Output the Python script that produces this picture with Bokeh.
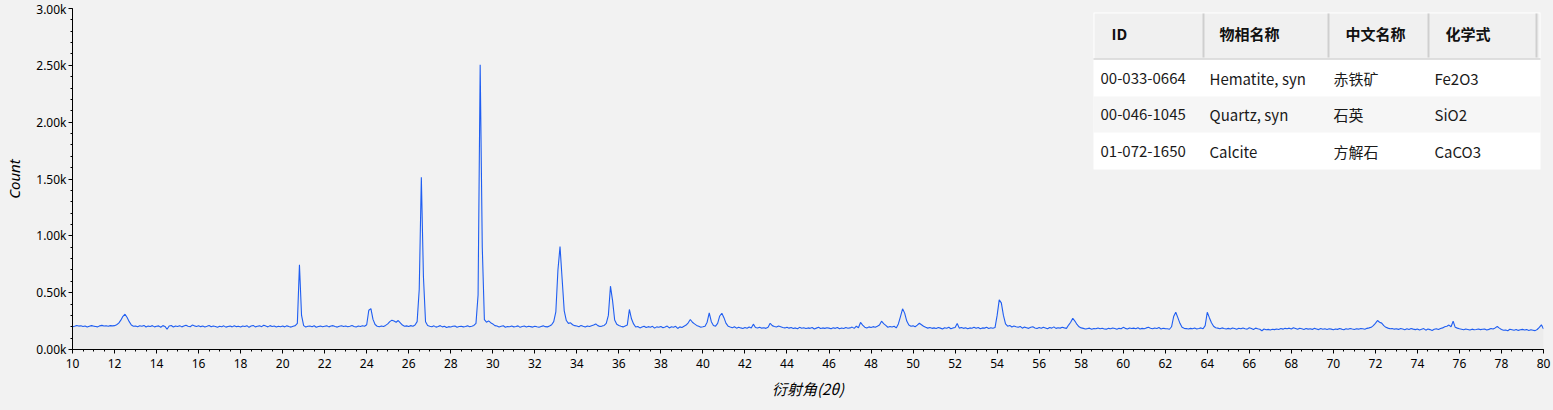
import numpy as np
from bokeh.plotting import figure
from bokeh.models import Range1d, SingleIntervalTicker, CustomJSTickFormatter, ColumnDataSource
from bokeh.core.properties import value
from bokeh.embed import file_html
from bokeh.resources import INLINE

# ---------------- data ----------------
START_2THETA = 10.0
STEP_2THETA = 0.1
counts = [
    200, 204, 212, 206, 209, 203, 207, 198, 205, 210,   # 10
    206, 203, 199, 208, 212, 207, 209, 205, 210, 208,   # 11
    210, 218, 232, 258, 292, 310, 282, 245, 215, 205,   # 12
    207, 201, 209, 204, 212, 198, 206, 203, 210, 199,   # 13
    205, 208, 196, 210, 203, 178, 207, 211, 198, 206,   # 14
    202, 210, 199, 206, 213, 204, 200, 215, 208, 203,   # 15
    209, 201, 206, 198, 204, 211, 200, 207, 203, 196,   # 16
    205, 200, 208, 197, 203, 206, 199, 209, 201, 205,   # 17
    198, 207, 202, 210, 195, 206, 212, 199, 204, 208,   # 18
    201, 214, 206, 199, 210, 203, 207, 198, 205, 200,   # 19
    206, 199, 208, 202, 197, 205, 210, 230, 745, 300,   # 20
    210, 198, 204, 207, 201, 209, 196, 203, 206, 200,   # 21
    204, 208, 199, 206, 210, 202, 197, 205, 209, 203,   # 22
    207, 200, 205, 211, 203, 198, 206, 202, 209, 204,   # 23
    218, 345, 360, 265, 220, 205, 200, 207, 203, 212,   # 24
    225, 245, 258, 250, 240, 255, 235, 215, 205, 208,   # 25
    203, 210, 205, 215, 245, 530, 1515, 640, 245, 212,  # 26
    205, 200, 208, 197, 203, 210, 199, 205, 193, 201,   # 27
    198, 204, 207, 196, 202, 205, 199, 203, 208, 200,   # 28
    205, 212, 230, 480, 2505, 900, 262, 240, 252, 236,  # 29
    225, 210, 206, 198, 204, 209, 196, 203, 200, 206,   # 30
    199, 203, 208, 195, 202, 206, 198, 204, 201, 197,   # 31
    205, 200, 196, 203, 208, 201, 199, 206, 218, 245,   # 32
    330, 700, 905, 620, 340, 255, 230, 235, 218, 210,   # 33
    206, 200, 212, 204, 198, 207, 203, 209, 215, 225,   # 34
    210, 203, 206, 212, 230, 300, 557, 430, 260, 222,   # 35
    212, 205, 199, 207, 215, 352, 270, 225, 198, 203,   # 36
    190, 198, 205, 193, 201, 196, 204, 188, 199, 195,   # 37
    203, 192, 198, 206, 190, 200, 196, 204, 185, 199,   # 38
    194, 205, 215, 235, 264, 240, 225, 212, 205, 196,   # 39
    200, 205, 240, 323, 245, 212, 205, 230, 295, 319,   # 40
    280, 230, 205, 198, 192, 200, 188, 196, 190, 185,   # 41
    193, 187, 198, 190, 223, 194, 189, 196, 188, 192,   # 42
    186, 195, 231, 210, 203, 198, 206, 200, 194, 190,   # 43
    196, 188, 193, 185, 190, 182, 195, 187, 191, 184,   # 44
    190, 186, 193, 181, 188, 195, 184, 190, 186, 192,   # 45
    188, 183, 191, 186, 194, 182, 189, 185, 193, 187,   # 46
    190, 197, 186, 205, 192, 238, 215, 196, 189, 199,   # 47
    193, 201, 196, 205, 215, 249, 228, 212, 196, 202,   # 48
    198, 205, 190, 225, 290, 358, 320, 250, 215, 205,   # 49
    208, 200, 214, 231, 218, 205, 195, 188, 193, 186,   # 50
    190, 185, 194, 188, 181, 192, 187, 196, 183, 190,   # 51
    194, 229, 188, 194, 186, 192, 183, 190, 187, 195,   # 52
    186, 193, 182, 190, 188, 195, 184, 191, 187, 193,   # 53
    300, 437, 410, 300, 225, 205, 212, 198, 206, 200,   # 54
    195, 203, 188, 197, 192, 186, 195, 200, 190, 184,   # 55
    193, 187, 196, 190, 183, 194, 188, 199, 186, 192,   # 56
    188, 195, 190, 186, 215, 240, 275, 250, 220, 200,   # 57
    190, 186, 181, 184, 188, 179, 185, 182, 190, 183,   # 58
    187, 181, 179, 186, 183, 190, 184, 178, 186, 182,   # 59
    195, 186, 181, 190, 184, 188, 183, 191, 180, 186,   # 60
    183, 190, 195, 187, 182, 189, 185, 193, 181, 187,   # 61
    184, 182, 178, 200, 290, 328, 280, 230, 195, 186,   # 62
    184, 180, 186, 183, 189, 181, 185, 190, 182, 210,   # 63
    328, 280, 235, 205, 192, 188, 183, 190, 185, 181,   # 64
    186, 180, 189, 184, 178, 187, 182, 190, 183, 179,   # 65
    192, 185, 176, 188, 182, 178, 165, 180, 174, 177,   # 66
    172, 178, 175, 181, 176, 184, 179, 186, 182, 188,   # 67
    180, 191, 185, 178, 187, 182, 176, 184, 179, 183,   # 68
    177, 186, 181, 175, 184, 178, 182, 176, 183, 179,   # 69
    174, 181, 177, 184, 179, 173, 182, 178, 185, 180,   # 70
    176, 183, 179, 185, 182, 178, 186, 190, 195, 210,   # 71
    230, 255, 240, 232, 210, 195, 188, 182, 185, 179,   # 72
    183, 177, 185, 180, 174, 182, 176, 184, 179, 175,   # 73
    181, 172, 178, 184, 170, 180, 175, 168, 178, 182,   # 74
    176, 185, 190, 200, 205, 215, 200, 249, 195, 188,   # 75
    182, 178, 174, 180, 176, 172, 179, 174, 176, 181,   # 76
    175, 178, 181, 172, 177, 184, 180, 190, 202, 188,   # 77
    176, 170, 172, 165, 178, 174, 170, 176, 168, 173,   # 78
    177, 171, 175, 168, 174, 170, 166, 176, 195, 217,   # 79
    180,                                                # 80
]
two_theta = np.round(START_2THETA + STEP_2THETA * np.arange(len(counts)), 2)

table_columns = ["ID", "物相名称", "中文名称", "化学式"]
phase_ids = ["00-033-0664", "00-046-1045", "01-072-1650"]
phase_names = ["Hematite, syn", "Quartz, syn", "Calcite"]
chinese_names = ["赤铁矿", "石英", "方解石"]
formulas = ["Fe2O3", "SiO2", "CaCO3"]

x_title = "衍射角(2θ)"
y_title = "Count"

X_RANGE = (10, 80)
Y_RANGE = (0, 3000)

# ---------------- figure ----------------
BG = "#f2f2f2"
W, H = 1553, 410
ML, MR, MT, MB = 72, 10, 8, 61

p = figure(width=W, height=H, output_backend="svg", toolbar_location=None,
           x_range=Range1d(*X_RANGE), y_range=Range1d(*Y_RANGE),
           min_border_left=ML, min_border_right=MR, min_border_top=MT, min_border_bottom=MB,
           background_fill_color=BG, border_fill_color=BG, outline_line_color=None)
p.grid.visible = False

src = ColumnDataSource(dict(x=two_theta, y=counts))
p.varea(x="x", y1=0, y2="y", source=src, fill_color="#e4e4e4", fill_alpha=0.45)
p.line(x="x", y="y", source=src, line_color="#1f5ef2", line_width=1.1)

TICK_FONT = "Noto Sans"
for ax in (p.xaxis[0], p.yaxis[0]):
    ax.axis_line_color = "black"
    ax.major_tick_line_color = "black"
    ax.minor_tick_line_color = "black"
    ax.major_tick_in = 0
    ax.minor_tick_in = 0
    ax.major_tick_out = 4
    ax.minor_tick_out = 2
    ax.major_label_text_font = TICK_FONT
    ax.major_label_text_font_size = "12px"
    ax.major_label_text_color = "black"
    ax.axis_label_text_font_style = "italic"
    ax.axis_label_text_font_size = "15px"
    ax.axis_label_text_color = "black"

p.xaxis[0].ticker = SingleIntervalTicker(interval=2, num_minor_ticks=4)
p.xaxis[0].major_label_standoff = 5
p.xaxis[0].axis_label = x_title
p.xaxis[0].axis_label_text_font = "Noto Sans CJK SC"
p.xaxis[0].axis_label_standoff = 7

p.yaxis[0].ticker = SingleIntervalTicker(interval=500, num_minor_ticks=5)
p.yaxis[0].formatter = CustomJSTickFormatter(code="return (tick/1000).toFixed(2) + 'k';")
p.yaxis[0].major_label_standoff = 2
p.yaxis[0].axis_label = y_title
p.yaxis[0].axis_label_text_font = "Noto Sans"
p.yaxis[0].axis_label_standoff = 9

# ---------------- placement helpers (canvas px -> data) ----------------
FR_L, FR_R = ML, W - MR
FR_T, FR_B = MT, H - MB

def dx(px):
    return X_RANGE[0] + (px - FR_L) / (FR_R - FR_L) * (X_RANGE[1] - X_RANGE[0])

def dy(py):
    return Y_RANGE[0] + (FR_B - py) / (FR_B - FR_T) * (Y_RANGE[1] - Y_RANGE[0])

# ---------------- table ----------------
T_L, T_R = 1093, 1540
T_TOP, HEAD_B = 12, 58
ROW_EDGES = [59, 96, 132, 169]
SEP_X = [1203, 1328, 1428, 1536]
HEAD_TX = [1111, 1219, 1345, 1445]
CELL_TX = [1100, 1209, 1333, 1434]
HEAD_TY = 33

p.quad(left=[dx(T_L)], right=[dx(T_R)], top=[dy(T_TOP)], bottom=[dy(ROW_EDGES[-1])],
       fill_color="white", line_color=None)
p.quad(left=[dx(T_L + 1)], right=[dx(T_R - 1)], top=[dy(T_TOP + 1)], bottom=[dy(HEAD_B)],
       fill_color="#f0f0f0", line_color=None)
p.quad(left=[dx(T_L)], right=[dx(T_R)], top=[dy(ROW_EDGES[1])], bottom=[dy(ROW_EDGES[2])],
       fill_color="#f6f6f6", line_color=None)
p.segment(x0=[dx(T_L)], x1=[dx(T_R)], y0=[dy(HEAD_B + 0.5)], y1=[dy(HEAD_B + 0.5)],
          line_color="#d4d4d4", line_width=1.5)
p.segment(x0=[dx(s) for s in SEP_X], x1=[dx(s) for s in SEP_X],
          y0=[dy(T_TOP + 1)] * len(SEP_X), y1=[dy(HEAD_B - 1)] * len(SEP_X),
          line_color="#cfcfcf", line_width=2)

p.text(x=[dx(v) for v in HEAD_TX], y=[dy(HEAD_TY)] * 4, text=table_columns,
       text_font=value("Noto Sans CJK SC"), text_font_size="15px", text_font_style="bold",
       text_baseline="middle", text_align="left", text_color="#111111")

cell_x, cell_y, cell_t = [], [], []
for i in range(len(phase_ids)):
    yc = dy((ROW_EDGES[i] + ROW_EDGES[i + 1]) / 2)
    for j, col in enumerate((phase_ids, phase_names, chinese_names, formulas)):
        cell_x.append(dx(CELL_TX[j]))
        cell_y.append(yc)
        cell_t.append(col[i])
p.text(x=cell_x, y=cell_y, text=cell_t,
       text_font=value("Noto Sans CJK SC"), text_font_size="15px",
       text_baseline="middle", text_align="left", text_color="#1a1a1a")

html = file_html(p, INLINE)
html = html.replace("<head>", "<head><style>html,body{background:#f2f2f2;}</style>", 1)
open("out.html", "w").write(html)
